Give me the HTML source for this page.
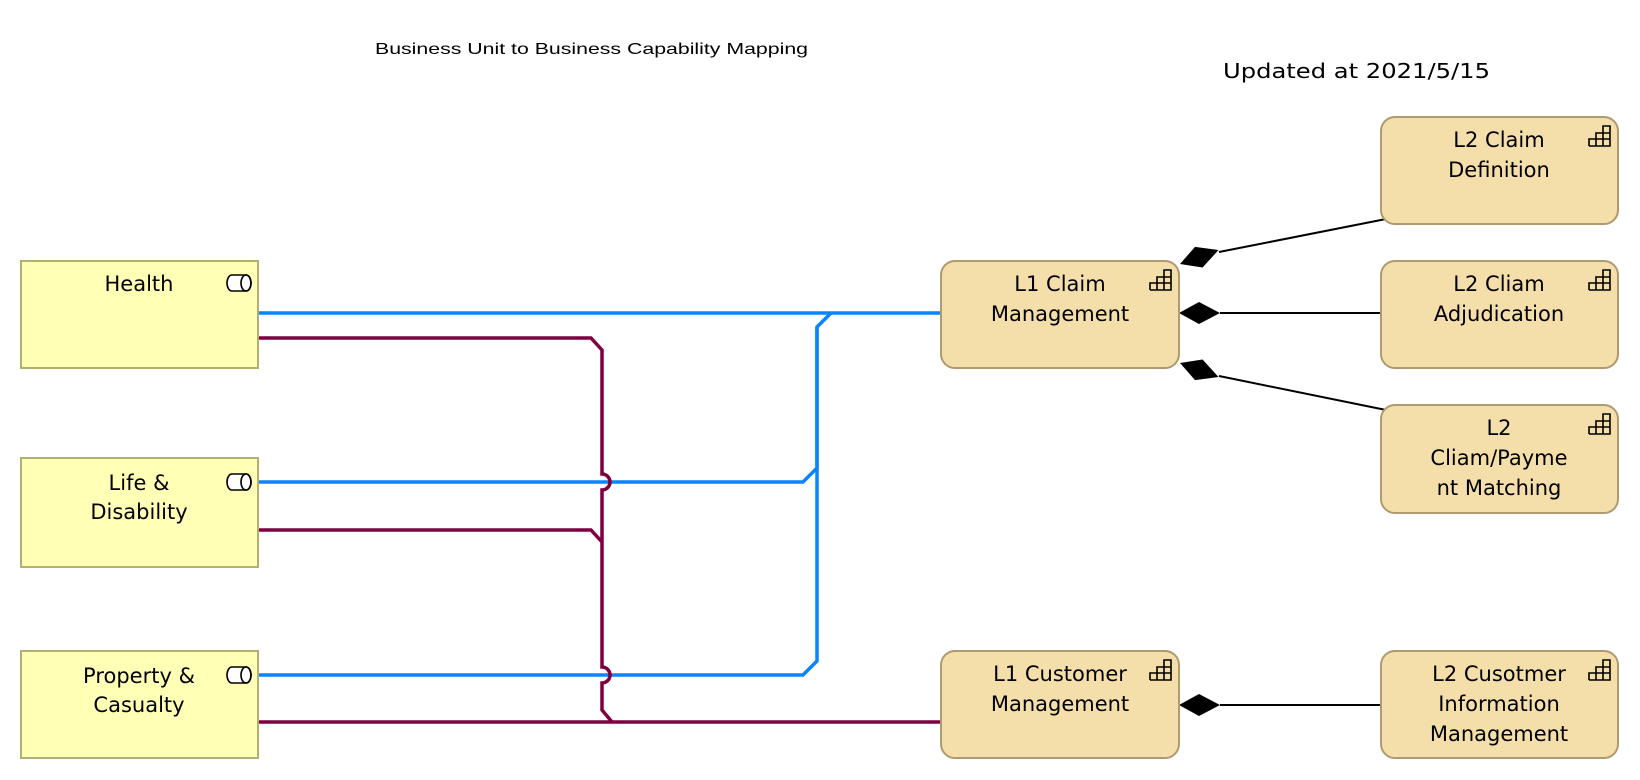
<!DOCTYPE html>
<html><head><meta charset="utf-8"><style>
html,body{margin:0;padding:0;background:#fff;}
svg{display:block;}
text{font-family:"DejaVu Sans","Liberation Sans",sans-serif;fill:#000;}
</style></head><body>
<svg width="1640" height="780" viewBox="0 0 1640 780" xmlns="http://www.w3.org/2000/svg">
<defs>
<g id="role">
  <path d="M0,-8 h14 a5,8 0 0 1 0,16 h-14 a5,8 0 0 1 0,-16 z" fill="#fff" stroke="#000" stroke-width="1.6"/>
  <ellipse cx="14" cy="0" rx="5" ry="8" fill="none" stroke="#000" stroke-width="1.6"/>
</g>
<g id="cap" fill="none" stroke="#000" stroke-width="1.6">
  <path d="M0,20 h21 v-20 h-7 v20 M7,20 v-13 h14 M0,20 v-7 h21"/>
</g>
<polygon id="dia" points="0,0 20,-11 41,0 20,11" fill="#000"/>
</defs>

<text x="375" y="54" style="font-family:'Liberation Sans',sans-serif" font-size="16" textLength="433" lengthAdjust="spacingAndGlyphs">Business Unit to Business Capability Mapping</text>
<text x="1223" y="78" font-size="20" textLength="267" lengthAdjust="spacingAndGlyphs">Updated at 2021/5/15</text>

<!-- connectors -->
<g fill="none" stroke-width="3.5">
  <path d="M258,313 H941" stroke="#0a84ff"/>
  <path d="M258,482 H803 L817,468 V327 L831,313" stroke="#0a84ff"/>
  <path d="M258,675 H803 L817,661 V327" stroke="#0a84ff"/>
  <path d="M258,338 H591 L602,350 V474 A8,8 0 0 1 602,490 V667 A8,8 0 0 1 602,683 V710 L612,722" stroke="#7d0040"/>
  <path d="M258,530 H591 L602,542" stroke="#7d0040"/>
  <path d="M258,722 H941" stroke="#7d0040"/>
</g>
<g stroke="#000" stroke-width="2" fill="none">
  <path d="M1219,252 L1386,219"/>
  <path d="M1220,313 H1381"/>
  <path d="M1219,376 L1386,410"/>
  <path d="M1220,705 H1381"/>
</g>
<use href="#dia" transform="translate(1180,264) rotate(-20)"/>
<use href="#dia" transform="translate(1179,313)"/>
<use href="#dia" transform="translate(1180,363) rotate(20)"/>
<use href="#dia" transform="translate(1179,705)"/>

<!-- business units -->
<g fill="#ffffb5" stroke="#b0b070" stroke-width="2">
  <rect x="21" y="261" width="237" height="107"/>
  <rect x="21" y="458" width="237" height="109"/>
  <rect x="21" y="651" width="237" height="107"/>
</g>
<g font-size="21" text-anchor="middle">
  <text x="139" y="291">Health</text>
  <text x="139" y="490">Life &amp;</text>
  <text x="139" y="519">Disability</text>
  <text x="139" y="683">Property &amp;</text>
  <text x="139" y="712">Casualty</text>
</g>
<use href="#role" x="232" y="283"/>
<use href="#role" x="232" y="482"/>
<use href="#role" x="232" y="675"/>

<!-- capabilities -->
<g fill="#f4dea9" stroke="#b09a70" stroke-width="2">
  <rect x="941" y="261" width="238" height="107" rx="14"/>
  <rect x="941" y="651" width="238" height="107" rx="14"/>
  <rect x="1381" y="117" width="237" height="107" rx="14"/>
  <rect x="1381" y="261" width="237" height="107" rx="14"/>
  <rect x="1381" y="405" width="237" height="108" rx="14"/>
  <rect x="1381" y="651" width="237" height="107" rx="14"/>
</g>
<g font-size="21" text-anchor="middle">
  <text x="1060" y="291">L1 Claim</text>
  <text x="1060" y="321">Management</text>
  <text x="1060" y="681">L1 Customer</text>
  <text x="1060" y="711">Management</text>
  <text x="1499" y="147">L2 Claim</text>
  <text x="1499" y="177">Definition</text>
  <text x="1499" y="291">L2 Cliam</text>
  <text x="1499" y="321">Adjudication</text>
  <text x="1499" y="435">L2</text>
  <text x="1499" y="465">Cliam/Payme</text>
  <text x="1499" y="495">nt Matching</text>
  <text x="1499" y="681">L2 Cusotmer</text>
  <text x="1499" y="711">Information</text>
  <text x="1499" y="741">Management</text>
</g>
<use href="#cap" x="1150" y="270"/>
<use href="#cap" x="1150" y="660"/>
<use href="#cap" x="1589" y="126"/>
<use href="#cap" x="1589" y="270"/>
<use href="#cap" x="1589" y="414"/>
<use href="#cap" x="1589" y="660"/>
</svg>
</body></html>
